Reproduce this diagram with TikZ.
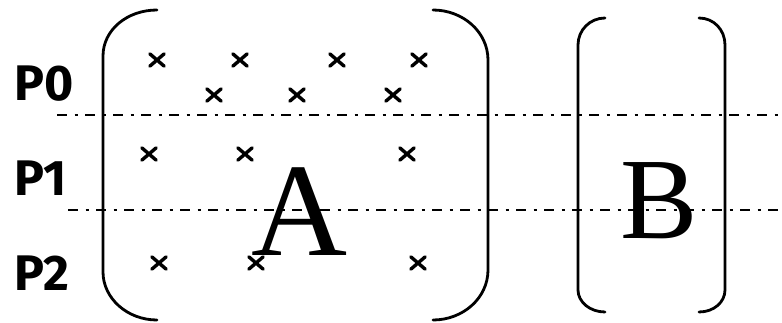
\documentclass[tikz,border=0pt]{standalone}
\usepackage{fontspec}
\setmainfont{Liberation Serif}
\newfontfamily\labfont{Fira Sans}
\usetikzlibrary{shapes.misc}
\begin{document}
\begin{tikzpicture}[x=1pt,y=-1pt,
  bracket/.style={line width=2.8pt, line cap=round},
  part/.style={line width=2.2pt, dash pattern=on 10pt off 7.5pt on 3pt off 7.5pt},
  xmark/.style={cross out, draw, line width=3.4pt, line cap=round, minimum width=11pt, minimum height=9pt, inner sep=0pt},
  plabel/.style={anchor=base west, inner sep=0pt, font=\labfont\bfseries\fontsize{50}{50}\selectfont},
  big/.style={anchor=base, inner sep=0pt}]
\useasboundingbox (0,0) rectangle (782,322);
% partition lines
\coordinate (l1s) at (57,115);
\coordinate (l1e) at (782,115);
\coordinate (l2s) at (68,210);
\coordinate (l2e) at (782,210);
\draw[part] (l1s) -- (l1e);
\draw[part] (l2s) -- (l2e);
% labels
\node[plabel] (p0) at (14,100) {P0};
\node[plabel] (p1) at (14,195) {P1};
\node[plabel] (p2) at (14,290) {P2};
% matrix A brackets
\draw[bracket] (157,10) .. controls (127,10) and (103,30) .. (103,56) -- (103,272) .. controls (103,298) and (127,320) .. (157,320);
\draw[bracket] (433,10) .. controls (463,10) and (488,32) .. (488,60) -- (488,270) .. controls (488,298) and (463,320) .. (433,320);
% matrix B brackets
\draw[bracket] (605,18) .. controls (590,18) and (578,30) .. (578,45) -- (578,290) .. controls (578,302) and (590,312) .. (605,312);
\draw[bracket] (699,18) .. controls (714,18) and (725,30) .. (725,45) -- (725,290) .. controls (725,302) and (714,312) .. (699,312);
% letters
\node[big, font=\fontsize{133}{133}\selectfont] (A) at (300,255) {A};
\node[big, font=\fontsize{116}{116}\selectfont] (B) at (659,238) {B};
% nonzeros
\node[xmark] (x1) at (157,60) {};
\node[xmark] (x2) at (240,60) {};
\node[xmark] (x3) at (337,60) {};
\node[xmark] (x4) at (419,60) {};
\node[xmark] (x5) at (214,95) {};
\node[xmark] (x6) at (297,95) {};
\node[xmark] (x7) at (393,95) {};
\node[xmark] (x8) at (149,154) {};
\node[xmark] (x9) at (245,154) {};
\node[xmark] (x10) at (407,154) {};
\node[xmark] (x11) at (159,263) {};
\node[xmark] (x12) at (256,263) {};
\node[xmark] (x13) at (418,263) {};
\end{tikzpicture}
\end{document}
